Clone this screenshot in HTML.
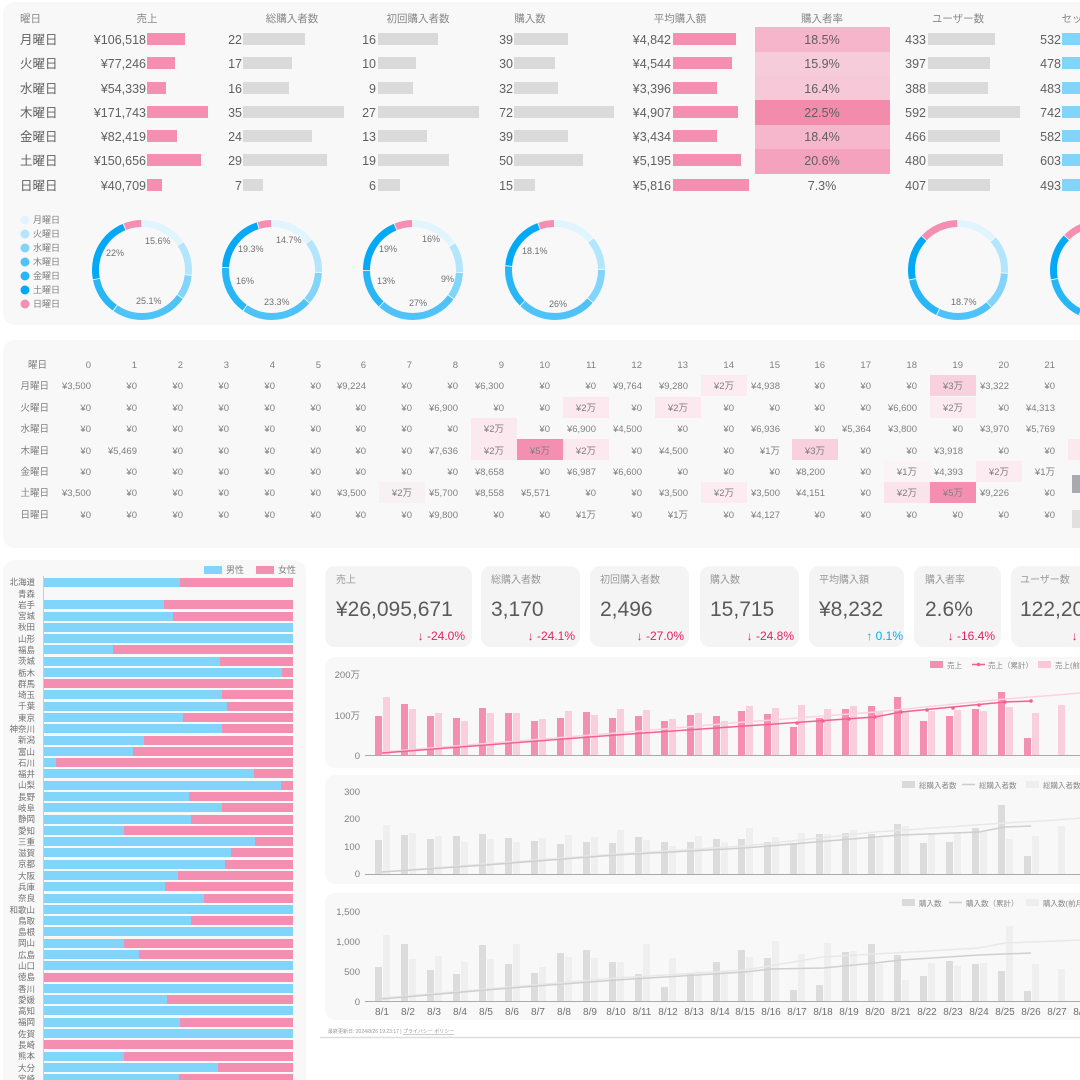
<!DOCTYPE html>
<html><head><meta charset="utf-8"><style>
html,body{margin:0;padding:0;background:#fff;width:1080px;height:1080px;overflow:hidden}
svg{display:block;font-family:"Liberation Sans","Noto Sans CJK JP",sans-serif}
.h{font-size:10.5px;fill:#888;text-anchor:middle}
.r{font-size:12.5px;fill:#606060}
.e{text-anchor:end}
.m{text-anchor:middle}
.hm{font-size:9.5px;fill:#808080;text-anchor:end}
.pl{font-size:8.5px;fill:#707070;text-anchor:end}
.ax{font-size:9.5px;fill:#808080;text-anchor:end}
.dl{font-size:9px;fill:#707070}
.lg{font-size:7.5px;fill:#888}
</style></head><body>
<svg width="1080" height="1080" viewBox="0 0 1080 1080" xmlns="http://www.w3.org/2000/svg">
<rect x="3" y="2" width="1100" height="323" rx="12" fill="#f8f8f8"/>
<rect x="3" y="340" width="1100" height="208" rx="12" fill="#f8f8f8"/>
<rect x="3" y="560" width="303" height="530" rx="12" fill="#f8f8f8"/>

<text x="20" y="22" font-size="10.5" fill="#888">曜日</text>
<text class="h" x="147" y="22">売上</text>
<text class="h" x="292" y="22">総購入者数</text>
<text class="h" x="418" y="22">初回購入者数</text>
<text class="h" x="530" y="22">購入数</text>
<text class="h" x="680" y="22">平均購入額</text>
<text class="h" x="822" y="22">購入者率</text>
<text class="h" x="958" y="22">ユーザー数</text>
<text class="h" x="1072" y="22">セッ</text>

<rect x="755" y="27" width="135" height="25" fill="#f6b5ca"/>
<rect x="755" y="52" width="135" height="24" fill="#f7ccda"/>
<rect x="755" y="76" width="135" height="24" fill="#f7c8d7"/>
<rect x="755" y="100" width="135" height="25" fill="#f38bad"/>
<rect x="755" y="125" width="135" height="24" fill="#f6b6cb"/>
<rect x="755" y="149" width="135" height="25" fill="#f5a2be"/>

<g class="r">
<text x="20" y="44">月曜日</text><text x="20" y="68">火曜日</text><text x="20" y="93">水曜日</text><text x="20" y="117">木曜日</text><text x="20" y="141">金曜日</text><text x="20" y="165">土曜日</text><text x="20" y="190">日曜日</text>
<g class="e">
<text x="146" y="44">¥106,518</text><text x="146" y="68">¥77,246</text><text x="146" y="93">¥54,339</text><text x="146" y="117">¥171,743</text><text x="146" y="141">¥82,419</text><text x="146" y="165">¥150,656</text><text x="146" y="190">¥40,709</text>
<text x="242" y="44">22</text><text x="242" y="68">17</text><text x="242" y="93">16</text><text x="242" y="117">35</text><text x="242" y="141">24</text><text x="242" y="165">29</text><text x="242" y="190">7</text>
<text x="376" y="44">16</text><text x="376" y="68">10</text><text x="376" y="93">9</text><text x="376" y="117">27</text><text x="376" y="141">13</text><text x="376" y="165">19</text><text x="376" y="190">6</text>
<text x="513" y="44">39</text><text x="513" y="68">30</text><text x="513" y="93">32</text><text x="513" y="117">72</text><text x="513" y="141">39</text><text x="513" y="165">50</text><text x="513" y="190">15</text>
<text x="671" y="44">¥4,842</text><text x="671" y="68">¥4,544</text><text x="671" y="93">¥3,396</text><text x="671" y="117">¥4,907</text><text x="671" y="141">¥3,434</text><text x="671" y="165">¥5,195</text><text x="671" y="190">¥5,816</text>
<text x="926" y="44">433</text><text x="926" y="68">397</text><text x="926" y="93">388</text><text x="926" y="117">592</text><text x="926" y="141">466</text><text x="926" y="165">480</text><text x="926" y="190">407</text>
<text x="1061" y="44">532</text><text x="1061" y="68">478</text><text x="1061" y="93">483</text><text x="1061" y="117">742</text><text x="1061" y="141">582</text><text x="1061" y="165">603</text><text x="1061" y="190">493</text>
</g>
<g class="m">
<text x="822" y="44">18.5%</text><text x="822" y="68">15.9%</text><text x="822" y="93">16.4%</text><text x="822" y="117">22.5%</text><text x="822" y="141">18.4%</text><text x="822" y="165">20.6%</text><text x="822" y="190">7.3%</text>
</g>
</g>

<g fill="#f48fb1">
<rect x="147" y="33" width="38" height="12"/><rect x="147" y="57" width="28" height="12"/><rect x="147" y="82" width="19" height="12"/><rect x="147" y="106" width="61" height="12"/><rect x="147" y="130" width="30" height="12"/><rect x="147" y="154" width="54" height="12"/><rect x="147" y="179" width="15" height="12"/>
<rect x="673" y="33" width="63" height="12"/><rect x="673" y="57" width="59" height="12"/><rect x="673" y="82" width="44" height="12"/><rect x="673" y="106" width="65" height="12"/><rect x="673" y="130" width="44" height="12"/><rect x="673" y="154" width="68" height="12"/><rect x="673" y="179" width="76" height="12"/>
</g>
<g fill="#dadada">
<rect x="243" y="33" width="62" height="12"/><rect x="243" y="57" width="49" height="12"/><rect x="243" y="82" width="46" height="12"/><rect x="243" y="106" width="101" height="12"/><rect x="243" y="130" width="69" height="12"/><rect x="243" y="154" width="84" height="12"/><rect x="243" y="179" width="20" height="12"/>
<rect x="378" y="33" width="60" height="12"/><rect x="378" y="57" width="38" height="12"/><rect x="378" y="82" width="35" height="12"/><rect x="378" y="106" width="101" height="12"/><rect x="378" y="130" width="49" height="12"/><rect x="378" y="154" width="71" height="12"/><rect x="378" y="179" width="22" height="12"/>
<rect x="514" y="33" width="54" height="12"/><rect x="514" y="57" width="41" height="12"/><rect x="514" y="82" width="44" height="12"/><rect x="514" y="106" width="100" height="12"/><rect x="514" y="130" width="54" height="12"/><rect x="514" y="154" width="69" height="12"/><rect x="514" y="179" width="21" height="12"/>
<rect x="928" y="33" width="67" height="12"/><rect x="928" y="57" width="62" height="12"/><rect x="928" y="82" width="60" height="12"/><rect x="928" y="106" width="92" height="12"/><rect x="928" y="130" width="72" height="12"/><rect x="928" y="154" width="75" height="12"/><rect x="928" y="179" width="62" height="12"/>
</g>
<g fill="#81d4fa">
<rect x="1062" y="33" width="30" height="12"/><rect x="1062" y="57" width="30" height="12"/><rect x="1062" y="82" width="30" height="12"/><rect x="1062" y="106" width="30" height="12"/><rect x="1062" y="130" width="30" height="12"/><rect x="1062" y="154" width="30" height="12"/><rect x="1062" y="179" width="30" height="12"/>
</g>

<g font-size="9" fill="#808080">
<circle cx="25" cy="220" r="4.5" fill="#e1f5fe"/><text x="33" y="223">月曜日</text>
<circle cx="25" cy="234" r="4.5" fill="#b3e5fc"/><text x="33" y="237">火曜日</text>
<circle cx="25" cy="248" r="4.5" fill="#81d4fa"/><text x="33" y="251">水曜日</text>
<circle cx="25" cy="262" r="4.5" fill="#4fc3f7"/><text x="33" y="265">木曜日</text>
<circle cx="25" cy="276" r="4.5" fill="#29b6f6"/><text x="33" y="279">金曜日</text>
<circle cx="25" cy="290" r="4.5" fill="#03a9f4"/><text x="33" y="293">土曜日</text>
<circle cx="25" cy="304" r="4.5" fill="#f48fb1"/><text x="33" y="307">日曜日</text>
</g>

<g fill="none" stroke-width="7">
<g transform="rotate(-90 142 270)">
<circle cx="142" cy="270" r="46.5" pathLength="100" stroke="#e1f5fe" stroke-dasharray="15.3 100" stroke-dashoffset="0"/>
<circle cx="142" cy="270" r="46.5" pathLength="100" stroke="#b3e5fc" stroke-dasharray="11 100" stroke-dashoffset="-15.58"/>
<circle cx="142" cy="270" r="46.5" pathLength="100" stroke="#81d4fa" stroke-dasharray="7.65 100" stroke-dashoffset="-26.88"/>
<circle cx="142" cy="270" r="46.5" pathLength="100" stroke="#4fc3f7" stroke-dasharray="24.8 100" stroke-dashoffset="-34.83"/>
<circle cx="142" cy="270" r="46.5" pathLength="100" stroke="#29b6f6" stroke-dasharray="11.8 100" stroke-dashoffset="-59.95"/>
<circle cx="142" cy="270" r="46.5" pathLength="100" stroke="#03a9f4" stroke-dasharray="21.7 100" stroke-dashoffset="-72.01"/>
<circle cx="142" cy="270" r="46.5" pathLength="100" stroke="#f48fb1" stroke-dasharray="5.7 100" stroke-dashoffset="-94.05"/>
</g>
<g transform="rotate(-90 272 270)">
<circle cx="272" cy="270" r="46.5" pathLength="100" stroke="#e1f5fe" stroke-dasharray="14.4 100" stroke-dashoffset="0"/>
<circle cx="272" cy="270" r="46.5" pathLength="100" stroke="#b3e5fc" stroke-dasharray="11 100" stroke-dashoffset="-14.67"/>
<circle cx="272" cy="270" r="46.5" pathLength="100" stroke="#81d4fa" stroke-dasharray="10.4 100" stroke-dashoffset="-26"/>
<circle cx="272" cy="270" r="46.5" pathLength="100" stroke="#4fc3f7" stroke-dasharray="23 100" stroke-dashoffset="-36.67"/>
<circle cx="272" cy="270" r="46.5" pathLength="100" stroke="#29b6f6" stroke-dasharray="15.7 100" stroke-dashoffset="-60"/>
<circle cx="272" cy="270" r="46.5" pathLength="100" stroke="#03a9f4" stroke-dasharray="19 100" stroke-dashoffset="-76"/>
<circle cx="272" cy="270" r="46.5" pathLength="100" stroke="#f48fb1" stroke-dasharray="4.4 100" stroke-dashoffset="-95.33"/>
</g>
<g transform="rotate(-90 413 270)">
<circle cx="413" cy="270" r="46.5" pathLength="100" stroke="#e1f5fe" stroke-dasharray="15.7 100" stroke-dashoffset="0"/>
<circle cx="413" cy="270" r="46.5" pathLength="100" stroke="#b3e5fc" stroke-dasharray="9.7 100" stroke-dashoffset="-16"/>
<circle cx="413" cy="270" r="46.5" pathLength="100" stroke="#81d4fa" stroke-dasharray="8.7 100" stroke-dashoffset="-26"/>
<circle cx="413" cy="270" r="46.5" pathLength="100" stroke="#4fc3f7" stroke-dasharray="26.7 100" stroke-dashoffset="-35"/>
<circle cx="413" cy="270" r="46.5" pathLength="100" stroke="#29b6f6" stroke-dasharray="12.7 100" stroke-dashoffset="-62"/>
<circle cx="413" cy="270" r="46.5" pathLength="100" stroke="#03a9f4" stroke-dasharray="18.7 100" stroke-dashoffset="-75"/>
<circle cx="413" cy="270" r="46.5" pathLength="100" stroke="#f48fb1" stroke-dasharray="5.7 100" stroke-dashoffset="-94"/>
</g>
<g transform="rotate(-90 555 270)">
<circle cx="555" cy="270" r="46.5" pathLength="100" stroke="#e1f5fe" stroke-dasharray="13.8 100" stroke-dashoffset="0"/>
<circle cx="555" cy="270" r="46.5" pathLength="100" stroke="#b3e5fc" stroke-dasharray="10.5 100" stroke-dashoffset="-14.08"/>
<circle cx="555" cy="270" r="46.5" pathLength="100" stroke="#81d4fa" stroke-dasharray="11.25 100" stroke-dashoffset="-24.91"/>
<circle cx="555" cy="270" r="46.5" pathLength="100" stroke="#4fc3f7" stroke-dasharray="25.7 100" stroke-dashoffset="-36.46"/>
<circle cx="555" cy="270" r="46.5" pathLength="100" stroke="#29b6f6" stroke-dasharray="13.8 100" stroke-dashoffset="-62.45"/>
<circle cx="555" cy="270" r="46.5" pathLength="100" stroke="#03a9f4" stroke-dasharray="17.75 100" stroke-dashoffset="-76.53"/>
<circle cx="555" cy="270" r="46.5" pathLength="100" stroke="#f48fb1" stroke-dasharray="5.1 100" stroke-dashoffset="-94.58"/>
</g>
<g transform="rotate(-90 958 270)">
<circle cx="958" cy="270" r="46.5" pathLength="100" stroke="#e1f5fe" stroke-dasharray="13.4 100" stroke-dashoffset="0"/>
<circle cx="958" cy="270" r="46.5" pathLength="100" stroke="#b3e5fc" stroke-dasharray="12.25 100" stroke-dashoffset="-13.69"/>
<circle cx="958" cy="270" r="46.5" pathLength="100" stroke="#81d4fa" stroke-dasharray="12 100" stroke-dashoffset="-26.24"/>
<circle cx="958" cy="270" r="46.5" pathLength="100" stroke="#4fc3f7" stroke-dasharray="18.4 100" stroke-dashoffset="-38.51"/>
<circle cx="958" cy="270" r="46.5" pathLength="100" stroke="#29b6f6" stroke-dasharray="14.4 100" stroke-dashoffset="-57.23"/>
<circle cx="958" cy="270" r="46.5" pathLength="100" stroke="#03a9f4" stroke-dasharray="14.9 100" stroke-dashoffset="-71.96"/>
<circle cx="958" cy="270" r="46.5" pathLength="100" stroke="#f48fb1" stroke-dasharray="12.6 100" stroke-dashoffset="-87.14"/>
</g>
<g transform="rotate(-90 1100 270)">
<circle cx="1100" cy="270" r="46.5" pathLength="100" stroke="#e1f5fe" stroke-dasharray="13.3 100" stroke-dashoffset="0"/>
<circle cx="1100" cy="270" r="46.5" pathLength="100" stroke="#b3e5fc" stroke-dasharray="11.9 100" stroke-dashoffset="-13.6"/>
<circle cx="1100" cy="270" r="46.5" pathLength="100" stroke="#81d4fa" stroke-dasharray="12 100" stroke-dashoffset="-25.8"/>
<circle cx="1100" cy="270" r="46.5" pathLength="100" stroke="#4fc3f7" stroke-dasharray="18.7 100" stroke-dashoffset="-38.1"/>
<circle cx="1100" cy="270" r="46.5" pathLength="100" stroke="#29b6f6" stroke-dasharray="14.6 100" stroke-dashoffset="-57.1"/>
<circle cx="1100" cy="270" r="46.5" pathLength="100" stroke="#03a9f4" stroke-dasharray="15.1 100" stroke-dashoffset="-72"/>
<circle cx="1100" cy="270" r="46.5" pathLength="100" stroke="#f48fb1" stroke-dasharray="12.3 100" stroke-dashoffset="-87.4"/>
</g>
</g>
<g class="dl">
<text x="145" y="244">15.6%</text><text x="106" y="256">22%</text><text x="136" y="304">25.1%</text>
<text x="276" y="243">14.7%</text><text x="238" y="252">19.3%</text><text x="236" y="284">16%</text><text x="264" y="305">23.3%</text>
<text x="422" y="242">16%</text><text x="379" y="252">19%</text><text x="377" y="284">13%</text><text x="441" y="282">9%</text><text x="409" y="306">27%</text>
<text x="522" y="254">18.1%</text><text x="549" y="307">26%</text>
<text x="951" y="305">18.7%</text>
</g>

<g>
<rect x="471" y="418" width="46" height="21" fill="#fce8ef"/>
<rect x="471" y="439" width="46" height="21" fill="#fce8ef"/>
<rect x="517" y="439" width="46" height="21" fill="#f48fb1"/>
<rect x="563" y="397" width="46" height="21" fill="#fce8ef"/>
<rect x="563" y="439" width="46" height="21" fill="#fce8ef"/>
<rect x="379" y="482" width="46" height="21" fill="#f8f1f4"/>
<rect x="655" y="397" width="46" height="21" fill="#fce8ef"/>
<rect x="701" y="375" width="46" height="21" fill="#fcecf2"/>
<rect x="701" y="482" width="46" height="21" fill="#fcecf2"/>
<rect x="792" y="439" width="46" height="21" fill="#f8d0de"/>
<rect x="884" y="461" width="46" height="21" fill="#fbf4f7"/>
<rect x="884" y="482" width="46" height="21" fill="#fae3eb"/>
<rect x="930" y="375" width="46" height="21" fill="#f8d0de"/>
<rect x="930" y="397" width="46" height="21" fill="#fcecf2"/>
<rect x="930" y="482" width="46" height="21" fill="#f48fb1"/>
<rect x="976" y="461" width="46" height="21" fill="#fcecf2"/>
<rect x="1068" y="439" width="20" height="21" fill="#fce8ef"/>
<rect x="1072" y="475" width="10" height="18" fill="#a8aab0"/>
<rect x="1072" y="510" width="10" height="18" fill="#e0e0e0"/>
</g>
<g class="hm">
<text x="47" y="368">曜日</text>
<text x="91" y="368">0</text><text x="137" y="368">1</text><text x="183" y="368">2</text><text x="229" y="368">3</text><text x="275" y="368">4</text><text x="321" y="368">5</text><text x="366" y="368">6</text><text x="412" y="368">7</text><text x="458" y="368">8</text><text x="504" y="368">9</text><text x="550" y="368">10</text><text x="596" y="368">11</text><text x="642" y="368">12</text><text x="688" y="368">13</text><text x="734" y="368">14</text><text x="780" y="368">15</text><text x="825" y="368">16</text><text x="871" y="368">17</text><text x="917" y="368">18</text><text x="963" y="368">19</text><text x="1009" y="368">20</text><text x="1055" y="368">21</text>
<text x="49" y="389">月曜日</text><text x="49" y="411">火曜日</text><text x="49" y="432">水曜日</text><text x="49" y="454">木曜日</text><text x="49" y="475">金曜日</text><text x="49" y="496">土曜日</text><text x="49" y="518">日曜日</text>
<text x="91" y="389">¥3,500</text><text x="137" y="389">¥0</text><text x="183" y="389">¥0</text><text x="229" y="389">¥0</text><text x="275" y="389">¥0</text><text x="321" y="389">¥0</text><text x="366" y="389">¥9,224</text><text x="412" y="389">¥0</text><text x="458" y="389">¥0</text><text x="504" y="389">¥6,300</text><text x="550" y="389">¥0</text><text x="596" y="389">¥0</text><text x="642" y="389">¥9,764</text><text x="688" y="389">¥9,280</text><text x="734" y="389">¥2万</text><text x="780" y="389">¥4,938</text><text x="825" y="389">¥0</text><text x="871" y="389">¥0</text><text x="917" y="389">¥0</text><text x="963" y="389">¥3万</text><text x="1009" y="389">¥3,322</text><text x="1055" y="389">¥0</text>
<text x="91" y="411">¥0</text><text x="137" y="411">¥0</text><text x="183" y="411">¥0</text><text x="229" y="411">¥0</text><text x="275" y="411">¥0</text><text x="321" y="411">¥0</text><text x="366" y="411">¥0</text><text x="412" y="411">¥0</text><text x="458" y="411">¥6,900</text><text x="504" y="411">¥0</text><text x="550" y="411">¥0</text><text x="596" y="411">¥2万</text><text x="642" y="411">¥0</text><text x="688" y="411">¥2万</text><text x="734" y="411">¥0</text><text x="780" y="411">¥0</text><text x="825" y="411">¥0</text><text x="871" y="411">¥0</text><text x="917" y="411">¥6,600</text><text x="963" y="411">¥2万</text><text x="1009" y="411">¥0</text><text x="1055" y="411">¥4,313</text>
<text x="91" y="432">¥0</text><text x="137" y="432">¥0</text><text x="183" y="432">¥0</text><text x="229" y="432">¥0</text><text x="275" y="432">¥0</text><text x="321" y="432">¥0</text><text x="366" y="432">¥0</text><text x="412" y="432">¥0</text><text x="458" y="432">¥0</text><text x="504" y="432">¥2万</text><text x="550" y="432">¥0</text><text x="596" y="432">¥6,900</text><text x="642" y="432">¥4,500</text><text x="688" y="432">¥0</text><text x="734" y="432">¥0</text><text x="780" y="432">¥6,936</text><text x="825" y="432">¥0</text><text x="871" y="432">¥5,364</text><text x="917" y="432">¥3,800</text><text x="963" y="432">¥0</text><text x="1009" y="432">¥3,970</text><text x="1055" y="432">¥5,769</text>
<text x="91" y="454">¥0</text><text x="137" y="454">¥5,469</text><text x="183" y="454">¥0</text><text x="229" y="454">¥0</text><text x="275" y="454">¥0</text><text x="321" y="454">¥0</text><text x="366" y="454">¥0</text><text x="412" y="454">¥0</text><text x="458" y="454">¥7,636</text><text x="504" y="454">¥2万</text><text x="550" y="454">¥5万</text><text x="596" y="454">¥2万</text><text x="642" y="454">¥0</text><text x="688" y="454">¥4,500</text><text x="734" y="454">¥0</text><text x="780" y="454">¥1万</text><text x="825" y="454">¥3万</text><text x="871" y="454">¥0</text><text x="917" y="454">¥0</text><text x="963" y="454">¥3,918</text><text x="1009" y="454">¥0</text><text x="1055" y="454">¥0</text>
<text x="91" y="475">¥0</text><text x="137" y="475">¥0</text><text x="183" y="475">¥0</text><text x="229" y="475">¥0</text><text x="275" y="475">¥0</text><text x="321" y="475">¥0</text><text x="366" y="475">¥0</text><text x="412" y="475">¥0</text><text x="458" y="475">¥0</text><text x="504" y="475">¥8,658</text><text x="550" y="475">¥0</text><text x="596" y="475">¥6,987</text><text x="642" y="475">¥6,600</text><text x="688" y="475">¥0</text><text x="734" y="475">¥0</text><text x="780" y="475">¥0</text><text x="825" y="475">¥8,200</text><text x="871" y="475">¥0</text><text x="917" y="475">¥1万</text><text x="963" y="475">¥4,393</text><text x="1009" y="475">¥2万</text><text x="1055" y="475">¥1万</text>
<text x="91" y="496">¥3,500</text><text x="137" y="496">¥0</text><text x="183" y="496">¥0</text><text x="229" y="496">¥0</text><text x="275" y="496">¥0</text><text x="321" y="496">¥0</text><text x="366" y="496">¥3,500</text><text x="412" y="496">¥2万</text><text x="458" y="496">¥5,700</text><text x="504" y="496">¥8,558</text><text x="550" y="496">¥5,571</text><text x="596" y="496">¥0</text><text x="642" y="496">¥0</text><text x="688" y="496">¥3,500</text><text x="734" y="496">¥2万</text><text x="780" y="496">¥3,500</text><text x="825" y="496">¥4,151</text><text x="871" y="496">¥0</text><text x="917" y="496">¥2万</text><text x="963" y="496">¥5万</text><text x="1009" y="496">¥9,226</text><text x="1055" y="496">¥0</text>
<text x="91" y="518">¥0</text><text x="137" y="518">¥0</text><text x="183" y="518">¥0</text><text x="229" y="518">¥0</text><text x="275" y="518">¥0</text><text x="321" y="518">¥0</text><text x="366" y="518">¥0</text><text x="412" y="518">¥0</text><text x="458" y="518">¥9,800</text><text x="504" y="518">¥0</text><text x="550" y="518">¥0</text><text x="596" y="518">¥1万</text><text x="642" y="518">¥0</text><text x="688" y="518">¥1万</text><text x="734" y="518">¥0</text><text x="780" y="518">¥4,127</text><text x="825" y="518">¥0</text><text x="871" y="518">¥0</text><text x="917" y="518">¥0</text><text x="963" y="518">¥0</text><text x="1009" y="518">¥0</text><text x="1055" y="518">¥0</text>
</g>

<rect x="204" y="566" width="18" height="8" fill="#81d4fa"/><text x="226" y="573" font-size="9" fill="#808080">男性</text>
<rect x="256" y="566" width="18" height="8" fill="#f48fb1"/><text x="278" y="573" font-size="9" fill="#808080">女性</text>
<line x1="43.5" y1="576" x2="43.5" y2="1080" stroke="#ccc"/>
<g fill="#f48fb1">
<rect x="44" y="578" width="249" height="9"/>
<rect x="44" y="600" width="249" height="9"/><rect x="44" y="612" width="249" height="9"/><rect x="44" y="623" width="249" height="9"/><rect x="44" y="634" width="249" height="9"/><rect x="44" y="645" width="249" height="9"/><rect x="44" y="657" width="249" height="9"/><rect x="44" y="668" width="249" height="9"/><rect x="44" y="679" width="249" height="9"/><rect x="44" y="690" width="249" height="9"/><rect x="44" y="702" width="249" height="9"/><rect x="44" y="713" width="249" height="9"/><rect x="44" y="724" width="249" height="9"/><rect x="44" y="736" width="249" height="9"/><rect x="44" y="747" width="249" height="9"/><rect x="44" y="758" width="249" height="9"/><rect x="44" y="769" width="249" height="9"/><rect x="44" y="781" width="249" height="9"/><rect x="44" y="792" width="249" height="9"/><rect x="44" y="803" width="249" height="9"/><rect x="44" y="815" width="249" height="9"/><rect x="44" y="826" width="249" height="9"/><rect x="44" y="837" width="249" height="9"/><rect x="44" y="848" width="249" height="9"/><rect x="44" y="860" width="249" height="9"/><rect x="44" y="871" width="249" height="9"/><rect x="44" y="882" width="249" height="9"/><rect x="44" y="894" width="249" height="9"/><rect x="44" y="905" width="249" height="9"/><rect x="44" y="916" width="249" height="9"/><rect x="44" y="927" width="249" height="9"/><rect x="44" y="939" width="249" height="9"/><rect x="44" y="950" width="249" height="9"/><rect x="44" y="961" width="249" height="9"/><rect x="44" y="973" width="249" height="9"/><rect x="44" y="984" width="249" height="9"/><rect x="44" y="995" width="249" height="9"/><rect x="44" y="1006" width="249" height="9"/><rect x="44" y="1018" width="249" height="9"/><rect x="44" y="1029" width="249" height="9"/><rect x="44" y="1040" width="249" height="9"/><rect x="44" y="1052" width="249" height="9"/><rect x="44" y="1063" width="249" height="9"/><rect x="44" y="1074" width="249" height="9"/>
</g>
<g fill="#81d4fa">
<rect x="44" y="578" width="136" height="9"/>
<rect x="44" y="600" width="120" height="9"/><rect x="44" y="612" width="129" height="9"/><rect x="44" y="623" width="249" height="9"/><rect x="44" y="634" width="249" height="9"/><rect x="44" y="645" width="69" height="9"/><rect x="44" y="657" width="176" height="9"/><rect x="44" y="668" width="238" height="9"/>
<rect x="44" y="690" width="178" height="9"/><rect x="44" y="702" width="183" height="9"/><rect x="44" y="713" width="139" height="9"/><rect x="44" y="724" width="178" height="9"/><rect x="44" y="736" width="100" height="9"/><rect x="44" y="747" width="89" height="9"/><rect x="44" y="758" width="12" height="9"/><rect x="44" y="769" width="210" height="9"/><rect x="44" y="781" width="237" height="9"/><rect x="44" y="792" width="145" height="9"/><rect x="44" y="803" width="178" height="9"/><rect x="44" y="815" width="147" height="9"/><rect x="44" y="826" width="80" height="9"/><rect x="44" y="837" width="211" height="9"/><rect x="44" y="848" width="187" height="9"/><rect x="44" y="860" width="181" height="9"/><rect x="44" y="871" width="134" height="9"/><rect x="44" y="882" width="121" height="9"/><rect x="44" y="894" width="160" height="9"/><rect x="44" y="905" width="249" height="9"/><rect x="44" y="916" width="147" height="9"/><rect x="44" y="927" width="249" height="9"/><rect x="44" y="939" width="80" height="9"/><rect x="44" y="950" width="95" height="9"/><rect x="44" y="961" width="249" height="9"/>
<rect x="44" y="984" width="249" height="9"/><rect x="44" y="995" width="123" height="9"/><rect x="44" y="1006" width="249" height="9"/><rect x="44" y="1018" width="136" height="9"/><rect x="44" y="1029" width="249" height="9"/>
<rect x="44" y="1052" width="80" height="9"/><rect x="44" y="1063" width="174" height="9"/><rect x="44" y="1074" width="135" height="9"/>
</g>
<rect x="44" y="589" width="249" height="9" fill="#f8f8f8"/>
<g class="pl">
<text x="35" y="585">北海道</text><text x="35" y="597">青森</text><text x="35" y="608">岩手</text><text x="35" y="619">宮城</text><text x="35" y="630">秋田</text><text x="35" y="642">山形</text><text x="35" y="653">福島</text><text x="35" y="664">茨城</text><text x="35" y="676">栃木</text><text x="35" y="687">群馬</text><text x="35" y="698">埼玉</text><text x="35" y="709">千葉</text><text x="35" y="721">東京</text><text x="35" y="732">神奈川</text><text x="35" y="743">新潟</text><text x="35" y="755">富山</text><text x="35" y="766">石川</text><text x="35" y="777">福井</text><text x="35" y="788">山梨</text><text x="35" y="800">長野</text><text x="35" y="811">岐阜</text><text x="35" y="822">静岡</text><text x="35" y="834">愛知</text><text x="35" y="845">三重</text><text x="35" y="856">滋賀</text><text x="35" y="867">京都</text><text x="35" y="879">大阪</text><text x="35" y="890">兵庫</text><text x="35" y="901">奈良</text><text x="35" y="913">和歌山</text><text x="35" y="924">鳥取</text><text x="35" y="935">島根</text><text x="35" y="946">岡山</text><text x="35" y="958">広島</text><text x="35" y="969">山口</text><text x="35" y="980">徳島</text><text x="35" y="992">香川</text><text x="35" y="1003">愛媛</text><text x="35" y="1014">高知</text><text x="35" y="1025">福岡</text><text x="35" y="1037">佐賀</text><text x="35" y="1048">長崎</text><text x="35" y="1059">熊本</text><text x="35" y="1071">大分</text><text x="35" y="1082">宮崎</text>
</g>

<g fill="#f4f4f4">
<rect x="325" y="566" width="147" height="81" rx="10"/><rect x="481" y="566" width="99" height="81" rx="10"/><rect x="590" y="566" width="99" height="81" rx="10"/><rect x="700" y="566" width="99" height="81" rx="10"/><rect x="809" y="566" width="95" height="81" rx="10"/><rect x="914" y="566" width="87" height="81" rx="10"/><rect x="1011" y="566" width="90" height="81" rx="10"/>
</g>
<g font-size="10" fill="#999">
<text x="336" y="583">売上</text><text x="491" y="583">総購入者数</text><text x="600" y="583">初回購入者数</text><text x="710" y="583">購入数</text><text x="819" y="583">平均購入額</text><text x="925" y="583">購入者率</text><text x="1020" y="583">ユーザー数</text>
</g>
<g font-size="21" fill="#5a5a5a">
<text x="336" y="616">¥26,095,671</text><text x="491" y="616">3,170</text><text x="600" y="616">2,496</text><text x="710" y="616">15,715</text><text x="819" y="616">¥8,232</text><text x="925" y="616">2.6%</text><text x="1020" y="616">122,20</text>
</g>
<g font-size="12" fill="#e91e63" text-anchor="end">
<text x="465" y="640">↓ -24.0%</text><text x="575" y="640">↓ -24.1%</text><text x="684" y="640">↓ -27.0%</text><text x="794" y="640">↓ -24.8%</text><text x="903" y="640" fill="#03a9f4">↑ 0.1%</text><text x="995" y="640">↓ -16.4%</text><text x="1085" y="640">↓ -</text>
</g>

<g fill="#f8f8f8">
<rect x="325" y="657" width="780" height="111" rx="10"/>
<rect x="325" y="775" width="780" height="109" rx="10"/>
<rect x="325" y="893" width="780" height="127" rx="10"/>
</g>

<g class="ax"><text x="360" y="678">200万</text><text x="360" y="719">100万</text><text x="360" y="759">0</text></g>
<rect x="930" y="661" width="13" height="7" fill="#f48fb1"/><text class="lg" x="947" y="668">売上</text>
<line x1="972" y1="664.5" x2="985" y2="664.5" stroke="#f06292" stroke-width="1.5"/><circle cx="978.5" cy="664.5" r="1.8" fill="#f06292"/><text class="lg" x="988" y="668">売上（累計）</text>
<rect x="1038" y="661" width="13" height="7" fill="#f8c8d8"/><text class="lg" x="1055" y="668">売上(前月)</text>
<g fill="#f48fb1">
<rect x="375" y="716" width="7" height="39"/><rect x="401" y="704" width="7" height="51"/><rect x="427" y="716" width="7" height="39"/><rect x="453" y="718" width="7" height="37"/><rect x="479" y="708" width="7" height="47"/><rect x="505" y="713" width="7" height="42"/><rect x="531" y="721" width="7" height="34"/><rect x="557" y="718" width="7" height="37"/><rect x="583" y="712" width="7" height="43"/><rect x="609" y="718" width="7" height="37"/><rect x="635" y="716" width="7" height="39"/><rect x="661" y="721" width="7" height="34"/><rect x="687" y="715" width="7" height="40"/><rect x="713" y="716" width="7" height="39"/><rect x="738" y="711" width="7" height="44"/><rect x="764" y="714" width="7" height="41"/><rect x="790" y="727" width="7" height="28"/><rect x="816" y="718" width="7" height="37"/><rect x="842" y="709" width="7" height="46"/><rect x="868" y="706" width="7" height="49"/><rect x="894" y="697" width="7" height="58"/><rect x="920" y="721" width="7" height="34"/><rect x="946" y="716" width="7" height="39"/><rect x="972" y="709" width="7" height="46"/><rect x="998" y="692" width="7" height="63"/><rect x="1024" y="738" width="7" height="17"/>
</g>
<g fill="#f9cfdd">
<rect x="383" y="697" width="7" height="58"/><rect x="409" y="709" width="7" height="46"/><rect x="435" y="713" width="7" height="42"/><rect x="461" y="721" width="7" height="34"/><rect x="487" y="713" width="7" height="42"/><rect x="513" y="713" width="7" height="42"/><rect x="539" y="719" width="7" height="36"/><rect x="565" y="711" width="7" height="44"/><rect x="591" y="715" width="7" height="40"/><rect x="617" y="709" width="7" height="46"/><rect x="643" y="710" width="7" height="45"/><rect x="669" y="719" width="7" height="36"/><rect x="695" y="713" width="7" height="42"/><rect x="721" y="721" width="7" height="34"/><rect x="746" y="706" width="7" height="49"/><rect x="772" y="708" width="7" height="47"/><rect x="798" y="705" width="7" height="50"/><rect x="824" y="709" width="7" height="46"/><rect x="850" y="706" width="7" height="49"/><rect x="876" y="712" width="7" height="43"/><rect x="902" y="711" width="7" height="44"/><rect x="928" y="711" width="7" height="44"/><rect x="954" y="710" width="7" height="45"/><rect x="980" y="711" width="7" height="44"/><rect x="1006" y="707" width="7" height="48"/><rect x="1032" y="713" width="7" height="42"/><rect x="1058" y="705" width="7" height="50"/>
</g>
<polyline points="382,752 616,733 745,722 875,712 1005,699 1057,695 1080,693" fill="none" stroke="#fbd3e0" stroke-width="1.5"/>
<polyline points="382,753 486,745 616,735 745,726 875,717 901,712 1005,702 1031,701" fill="none" stroke="#f06292" stroke-width="1.5"/>
<g fill="#f06292">
<circle cx="875" cy="717" r="1.8"/><circle cx="901" cy="712" r="1.8"/><circle cx="927" cy="710" r="1.8"/><circle cx="953" cy="708" r="1.8"/><circle cx="979" cy="705" r="1.8"/><circle cx="1005" cy="702" r="1.8"/><circle cx="1031" cy="701" r="1.8"/><circle cx="849" cy="719" r="1.8"/><circle cx="823" cy="721" r="1.8"/><circle cx="797" cy="723" r="1.8"/>
</g>
<line x1="365" y1="755.5" x2="1080" y2="755.5" stroke="#aaa"/>

<g class="ax"><text x="360" y="795">300</text><text x="360" y="822">200</text><text x="360" y="850">100</text><text x="360" y="877">0</text></g>
<rect x="902" y="781" width="13" height="7" fill="#dadada"/><text class="lg" x="919" y="788">総購入者数</text>
<line x1="962" y1="784.5" x2="975" y2="784.5" stroke="#ccc" stroke-width="1.5"/><text class="lg" x="979" y="788">総購入者数</text>
<rect x="1026" y="781" width="13" height="7" fill="#eeeeee"/><text class="lg" x="1043" y="788">総購入者数(前月)</text>
<g fill="#dcdcdc">
<rect x="375" y="840" width="7" height="34"/><rect x="401" y="835" width="7" height="39"/><rect x="427" y="839" width="7" height="35"/><rect x="453" y="836" width="7" height="38"/><rect x="479" y="834" width="7" height="40"/><rect x="505" y="838" width="7" height="36"/><rect x="531" y="841" width="7" height="33"/><rect x="557" y="844" width="7" height="30"/><rect x="583" y="842" width="7" height="32"/><rect x="609" y="843" width="7" height="31"/><rect x="635" y="837" width="7" height="37"/><rect x="661" y="842" width="7" height="32"/><rect x="687" y="842" width="7" height="32"/><rect x="713" y="839" width="7" height="35"/><rect x="738" y="839" width="7" height="35"/><rect x="764" y="842" width="7" height="32"/><rect x="790" y="843" width="7" height="31"/><rect x="816" y="834" width="7" height="40"/><rect x="842" y="833" width="7" height="41"/><rect x="868" y="834" width="7" height="40"/><rect x="894" y="824" width="7" height="50"/><rect x="920" y="843" width="7" height="31"/><rect x="946" y="842" width="7" height="32"/><rect x="972" y="828" width="7" height="46"/><rect x="998" y="805" width="7" height="69"/><rect x="1024" y="856" width="7" height="18"/>
</g>
<g fill="#efefef">
<rect x="383" y="825" width="7" height="49"/><rect x="409" y="833" width="7" height="41"/><rect x="435" y="836" width="7" height="38"/><rect x="461" y="842" width="7" height="32"/><rect x="487" y="839" width="7" height="35"/><rect x="513" y="842" width="7" height="32"/><rect x="539" y="838" width="7" height="36"/><rect x="565" y="835" width="7" height="39"/><rect x="591" y="837" width="7" height="37"/><rect x="617" y="830" width="7" height="44"/><rect x="643" y="840" width="7" height="34"/><rect x="669" y="846" width="7" height="28"/><rect x="695" y="836" width="7" height="38"/><rect x="721" y="842" width="7" height="32"/><rect x="746" y="828" width="7" height="46"/><rect x="772" y="837" width="7" height="37"/><rect x="798" y="833" width="7" height="41"/><rect x="824" y="834" width="7" height="40"/><rect x="850" y="830" width="7" height="44"/><rect x="876" y="838" width="7" height="36"/><rect x="902" y="826" width="7" height="48"/><rect x="928" y="833" width="7" height="41"/><rect x="954" y="833" width="7" height="41"/><rect x="980" y="832" width="7" height="42"/><rect x="1006" y="839" width="7" height="35"/><rect x="1032" y="836" width="7" height="38"/><rect x="1058" y="826" width="7" height="48"/>
</g>
<polyline points="382,872 616,854 745,846 875,832 1005,823 1057,820 1080,818" fill="none" stroke="#e8e8e8" stroke-width="1.5"/>
<polyline points="382,872 486,865 616,855 745,848 875,837 901,835 979,832 1005,827 1031,826" fill="none" stroke="#cfcfcf" stroke-width="1.5"/>
<line x1="365" y1="874.5" x2="1080" y2="874.5" stroke="#aaa"/>

<g class="ax"><text x="360" y="915">1,500</text><text x="360" y="945">1,000</text><text x="360" y="975">500</text><text x="360" y="1005">0</text></g>
<rect x="902" y="899" width="13" height="7" fill="#dadada"/><text class="lg" x="919" y="906">購入数</text>
<line x1="949" y1="902.5" x2="962" y2="902.5" stroke="#ccc" stroke-width="1.5"/><text class="lg" x="966" y="906">購入数（累計）</text>
<rect x="1026" y="899" width="13" height="7" fill="#eeeeee"/><text class="lg" x="1043" y="906">購入数(前月)</text>
<g fill="#dcdcdc">
<rect x="375" y="967" width="7" height="34"/><rect x="401" y="944" width="7" height="57"/><rect x="427" y="970" width="7" height="31"/><rect x="453" y="974" width="7" height="27"/><rect x="479" y="945" width="7" height="56"/><rect x="505" y="964" width="7" height="37"/><rect x="531" y="973" width="7" height="28"/><rect x="557" y="953" width="7" height="48"/><rect x="583" y="950" width="7" height="51"/><rect x="609" y="962" width="7" height="39"/><rect x="635" y="974" width="7" height="27"/><rect x="661" y="987" width="7" height="14"/><rect x="687" y="973" width="7" height="28"/><rect x="713" y="962" width="7" height="39"/><rect x="738" y="950" width="7" height="51"/><rect x="764" y="958" width="7" height="43"/><rect x="790" y="990" width="7" height="11"/><rect x="816" y="985" width="7" height="16"/><rect x="842" y="952" width="7" height="49"/><rect x="868" y="944" width="7" height="57"/><rect x="894" y="955" width="7" height="46"/><rect x="920" y="976" width="7" height="25"/><rect x="946" y="961" width="7" height="40"/><rect x="972" y="964" width="7" height="37"/><rect x="998" y="971" width="7" height="30"/><rect x="1024" y="991" width="7" height="10"/>
</g>
<g fill="#efefef">
<rect x="383" y="935" width="7" height="66"/><rect x="409" y="959" width="7" height="42"/><rect x="435" y="956" width="7" height="45"/><rect x="461" y="962" width="7" height="39"/><rect x="487" y="959" width="7" height="42"/><rect x="513" y="944" width="7" height="57"/><rect x="539" y="967" width="7" height="34"/><rect x="565" y="957" width="7" height="44"/><rect x="591" y="958" width="7" height="43"/><rect x="617" y="962" width="7" height="39"/><rect x="643" y="944" width="7" height="57"/><rect x="669" y="958" width="7" height="43"/><rect x="695" y="971" width="7" height="30"/><rect x="721" y="972" width="7" height="29"/><rect x="746" y="957" width="7" height="44"/><rect x="772" y="941" width="7" height="60"/><rect x="798" y="954" width="7" height="47"/><rect x="824" y="943" width="7" height="58"/><rect x="850" y="951" width="7" height="50"/><rect x="876" y="964" width="7" height="37"/><rect x="902" y="980" width="7" height="21"/><rect x="928" y="963" width="7" height="38"/><rect x="954" y="966" width="7" height="35"/><rect x="980" y="963" width="7" height="38"/><rect x="1006" y="926" width="7" height="75"/><rect x="1032" y="964" width="7" height="37"/><rect x="1058" y="969" width="7" height="32"/>
</g>
<polyline points="382,998 616,978 745,970 823,957 875,954 979,948 1005,943 1031,942 1057,941 1080,940" fill="none" stroke="#e8e8e8" stroke-width="1.5"/>
<polyline points="382,999 486,990 616,980 745,972 771,969 823,968 875,963 901,960 979,955 1005,954 1031,953" fill="none" stroke="#cfcfcf" stroke-width="1.5"/>
<line x1="365" y1="1001.5" x2="1080" y2="1001.5" stroke="#aaa"/>
<g font-size="10" fill="#707070" text-anchor="middle">
<text x="382" y="1015">8/1</text><text x="408" y="1015">8/2</text><text x="434" y="1015">8/3</text><text x="460" y="1015">8/4</text><text x="486" y="1015">8/5</text><text x="512" y="1015">8/6</text><text x="538" y="1015">8/7</text><text x="564" y="1015">8/8</text><text x="590" y="1015">8/9</text><text x="616" y="1015">8/10</text><text x="642" y="1015">8/11</text><text x="668" y="1015">8/12</text><text x="694" y="1015">8/13</text><text x="720" y="1015">8/14</text><text x="745" y="1015">8/15</text><text x="771" y="1015">8/16</text><text x="797" y="1015">8/17</text><text x="823" y="1015">8/18</text><text x="849" y="1015">8/19</text><text x="875" y="1015">8/20</text><text x="901" y="1015">8/21</text><text x="927" y="1015">8/22</text><text x="953" y="1015">8/23</text><text x="979" y="1015">8/24</text><text x="1005" y="1015">8/25</text><text x="1031" y="1015">8/26</text><text x="1057" y="1015">8/27</text><text x="1083" y="1015">8/28</text>
</g>
<text x="328" y="1033" font-size="5" fill="#999">最終更新日: 2024/8/26 19:23:17 | <tspan text-decoration="underline">プライバシー ポリシー</tspan></text>
<line x1="320" y1="1037.5" x2="1080" y2="1037.5" stroke="#ddd" stroke-width="1.5"/>
</svg>
</body></html>
